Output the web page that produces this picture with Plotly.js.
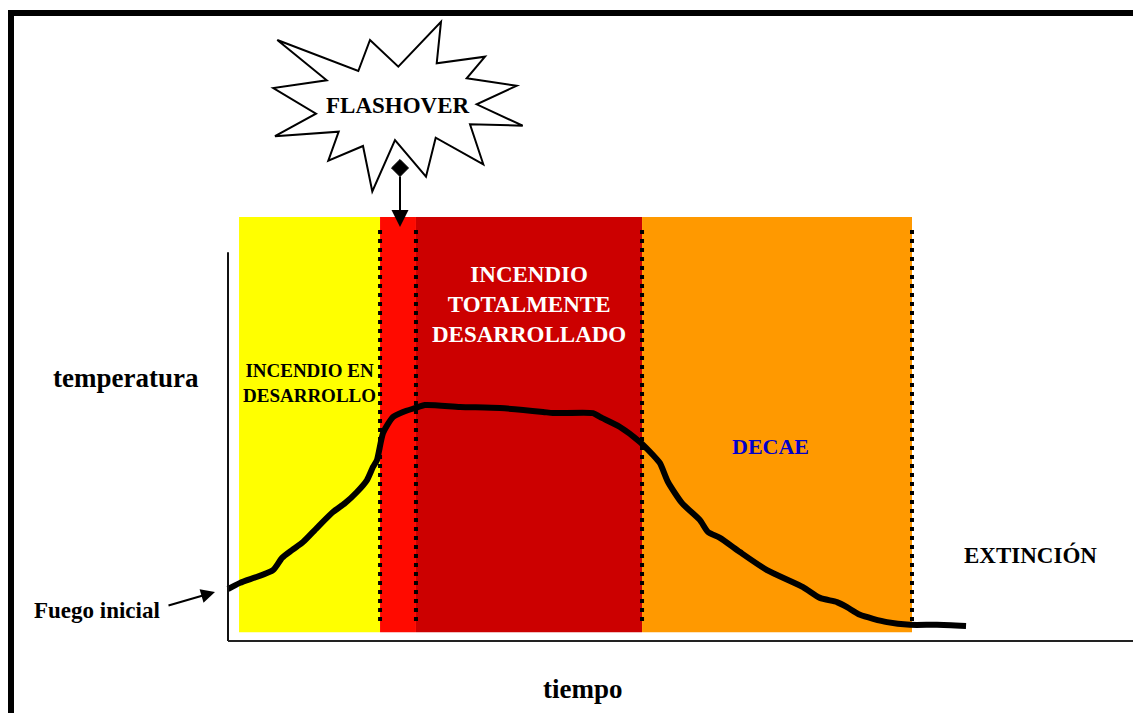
<!DOCTYPE html>
<html>
<head>
<meta charset="utf-8">
<script src="https://cdn.plot.ly/plotly-3.0.1.min.js"></script>
<style>html,body{margin:0;padding:0;background:#fff;}#chart{width:1133px;height:713px;}</style>
</head>
<body>
<div id="chart"></div>
<script>
// ---- data (arbitrary units: tiempo 0..100, temperatura 0..100) ----
const tiempo = [0, 1.33, 4.97, 5.97, 7.07, 8.29, 9.83, 11.60, 12.93, 14.25, 15.36, 16.02, 16.46, 17.13, 18.23, 19.34, 20.66, 21.77, 25.64, 30.06, 34.81, 35.91, 40.33, 41.10, 43.31, 45.52, 46.96, 47.73, 48.62, 50.17, 52.15, 53.04, 54.36, 56.57, 59.56, 63.54, 65.41, 67.29, 68.40, 69.83, 72.82, 75.36, 78.34, 81.55];
const temperatura = [13.5, 15.1, 18.4, 21.6, 23.6, 25.7, 29.4, 33.5, 35.8, 38.7, 41.8, 45.2, 47.0, 54.0, 58.2, 59.5, 60.5, 61.3, 60.8, 60.5, 59.5, 59.2, 59.2, 58.2, 55.6, 51.7, 48.3, 46.2, 41.3, 35.8, 31.4, 28.3, 26.8, 23.1, 18.4, 14.0, 11.2, 10.1, 8.8, 6.8, 4.9, 4.2, 4.2, 3.9];

const phaseNames  = ['INCENDIO EN<br>DESARROLLO', '', 'INCENDIO<br>TOTALMENTE<br>DESARROLLADO', 'DECAE'];
const phaseStart  = [1.22, 16.80, 20.77, 45.75];
const phaseEnd    = [16.80, 20.77, 45.75, 75.58];
const phaseColors = ['#FFFF00', '#FF0A00', '#CC0000', '#FF9900'];
const phaseTextColors = ['#000000', '#000000', '#FFFFFF', '#0000CC'];
const phaseTop = 110.1;
const phaseBottom = 2.3;
const dividerTop = 107.3;
const dividerBottom = 5.2;

const extincionLabel = 'EXTINCIÓN';
const flashoverLabel = 'FLASHOVER';
const xLabel = 'tiempo';
const yLabel = 'temperatura';
const startLabel = 'Fuego inicial';

// ---- layout helpers (figure pixels -> paper) ----
const W = 1133, H = 713;
const PX = p => p / W;
const PY = p => 1 - p / H;
const serif = 'Liberation Serif, Times New Roman, serif';

const shapes = [];
// phase regions
for (let i = 0; i < phaseStart.length; i++) {
  shapes.push({type: 'rect', xref: 'x', yref: 'y', x0: phaseStart[i], x1: phaseEnd[i],
    y0: phaseBottom, y1: phaseTop, fillcolor: phaseColors[i], line: {width: 0}, layer: 'below'});
}
// dotted dividers
for (let i = 0; i < phaseEnd.length; i++) {
  shapes.push({type: 'line', xref: 'x', yref: 'y', x0: phaseEnd[i], x1: phaseEnd[i],
    y0: dividerBottom, y1: dividerTop, line: {color: '#000', width: 4, dash: '4px,5px'}, layer: 'below'});
}
// axes
shapes.push({type: 'line', xref: 'x', yref: 'y', x0: 0, x1: 0, y0: 0, y1: 101, line: {color: '#111', width: 2}});
shapes.push({type: 'line', xref: 'x', yref: 'y', x0: 0, x1: 101, y0: 0, y1: 0, line: {color: '#222', width: 2}});
// outer frame
shapes.push({type: 'line', xref: 'paper', yref: 'paper', x0: PX(8), x1: 1, y0: PY(13), y1: PY(13), line: {color: '#000', width: 6}});
shapes.push({type: 'line', xref: 'paper', yref: 'paper', x0: PX(11), x1: PX(11), y0: PY(10), y1: 0, line: {color: '#000', width: 6}});
// starburst
const star = [[277.3,40],[358.3,71],[370,40],[398.3,66.7],[441,21.7],[436.7,63.3],[485,56.7],[466.7,78.3],[516.7,85.7],[476.7,104.3],[522.7,125.7],[470,124.3],[483.3,164.3],[435.7,137.7],[426,176.7],[395,140],[372.3,191.5],[363,146],[328.3,160.7],[338.7,131.7],[275,136.2],[316,113.6],[273.3,88],[326.7,80.3]];
let sp = '';
star.forEach((p, i) => { sp += (i === 0 ? 'M' : 'L') + PX(p[0]).toFixed(5) + ',' + PY(p[1]).toFixed(5); });
sp += 'Z';
shapes.push({type: 'path', xref: 'paper', yref: 'paper', path: sp, fillcolor: '#fff', line: {color: '#000', width: 2}});
// diamond
const dm = [[400,159.5],[408.5,168],[400,176.5],[391.5,168]];
let dp = '';
dm.forEach((p, i) => { dp += (i === 0 ? 'M' : 'L') + PX(p[0]).toFixed(5) + ',' + PY(p[1]).toFixed(5); });
dp += 'Z';
shapes.push({type: 'path', xref: 'paper', yref: 'paper', path: dp, fillcolor: '#000', line: {color: '#000', width: 1}});

const annotations = [];
const phaseLabelPos = [[309, 383, 19], null, [528.5, 304, 23], [770, 447, 22]];
phaseNames.forEach((n, i) => {
  if (!n) return;
  const p = phaseLabelPos[i];
  annotations.push({xref: 'paper', yref: 'paper', x: PX(p[0]), y: PY(p[1]), xanchor: 'center', yanchor: 'middle',
    text: n, showarrow: false, font: {family: serif, size: p[2], color: phaseTextColors[i], weight: 'bold'}});
});
function label(text, x, y, size, color) {
  annotations.push({xref: 'paper', yref: 'paper', x: PX(x), y: PY(y), xanchor: 'center', yanchor: 'middle',
    text: text, showarrow: false, font: {family: serif, size: size, color: color || '#000', weight: 'bold'}});
}
label(flashoverLabel, 397.5, 105, 23);
label(extincionLabel, 1030.5, 555, 23);
label(yLabel, 126, 378, 27);
label(xLabel, 582, 689, 27);
label(startLabel, 96.7, 610, 23);
// arrows
annotations.push({xref: 'paper', yref: 'paper', x: PX(400), y: PY(227), ax: 0, ay: -52, text: '', showarrow: true,
  arrowhead: 2, arrowsize: 1.7, arrowwidth: 2, arrowcolor: '#000', standoff: 0});
annotations.push({xref: 'paper', yref: 'paper', x: PX(215), y: PY(592), ax: -48, ay: 14, text: '', showarrow: true,
  arrowhead: 2, arrowsize: 1.4, arrowwidth: 2, arrowcolor: '#000', standoff: 0});

const trace = {x: tiempo, y: temperatura, type: 'scatter', mode: 'lines',
  line: {color: '#000', width: 6, shape: 'spline', smoothing: 0.6}, hoverinfo: 'skip'};

const layout = {
  width: W, height: H, margin: {l: 0, r: 0, t: 0, b: 0}, showlegend: false,
  paper_bgcolor: '#fff', plot_bgcolor: 'rgba(0,0,0,0)',
  xaxis: {range: [-228 / 9.05, 905 / 9.05], visible: false, fixedrange: true},
  yaxis: {range: [-72 / 3.85, 641 / 3.85], visible: false, fixedrange: true},
  shapes: shapes, annotations: annotations
};
Plotly.newPlot('chart', [trace], layout, {displayModeBar: false, staticPlot: true});
</script>
</body>
</html>
